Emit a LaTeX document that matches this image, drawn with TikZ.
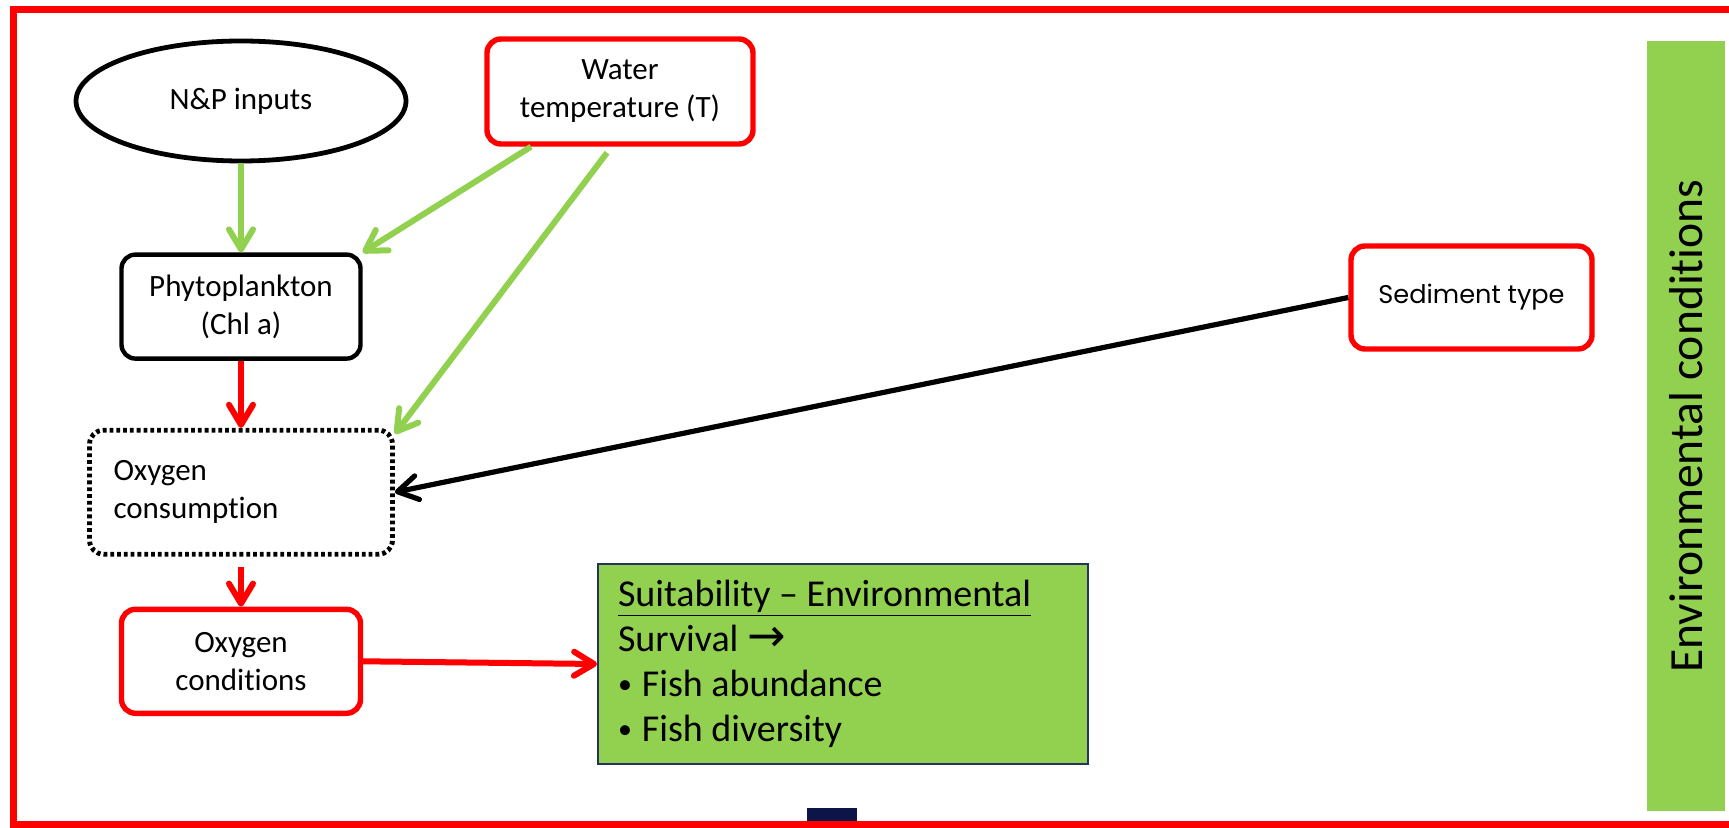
\documentclass[tikz,border=0pt]{standalone}
\usepackage{fontspec}
\setmainfont{Carlito}[Ligatures=NoCommon]
\newfontfamily\sedfont{Poppins}
\newfontfamily\arrowfont{DejaVu Sans}
\usepackage{tikz}
\usetikzlibrary{arrows.meta,positioning,shapes.geometric}
\definecolor{leafgreen}{RGB}{146,208,80}
\definecolor{framered}{RGB}{255,0,0}
\definecolor{inkblue}{RGB}{12,20,72}
\definecolor{edgeblue}{RGB}{38,50,95}
\newcommand{\fishdot}{\raisebox{1.5pt}{\fontsize{14pt}{14pt}\selectfont•}\hspace{5pt}}

\begin{document}
\begin{tikzpicture}[
  x=0.5pt,y=-0.5pt,
  every node/.style={font=\fontsize{15.5pt}{19pt}\selectfont},
  box/.style={draw=black,line width=2.2pt,rounded corners=7pt,align=center,
    minimum width=119.5pt,minimum height=52pt,inner sep=2pt},
  redbox/.style={box,draw=framered,line width=2.7pt},
  dotbox/.style={box,line width=2.4pt,dash pattern=on 1.9pt off 1.5pt,align=flush left,
    inner xsep=12pt,text width=127.5pt,minimum width=151.5pt,minimum height=62pt},
  inputs/.style={ellipse,draw=black,line width=2.4pt,minimum width=165pt,
    minimum height=60pt},
  suitbox/.style={draw=edgeblue,line width=1pt,fill=leafgreen,align=flush left,
    inner xsep=10pt,text width=225pt,minimum height=100pt,
    font=\fontsize{19pt}{22.5pt}\selectfont},
  envbar/.style={fill=leafgreen,inner sep=2pt,minimum width=385pt,
    minimum height=39pt,font=\fontsize{23.8pt}{28pt}\selectfont},
  greenarrow/.style={-{Straight Barb[length=10pt,width=12pt,round]},line width=3pt,
    draw=leafgreen},
  redarrow/.style={-{Straight Barb[length=10pt,width=12pt,round]},line width=3pt,
    draw=framered},
  blackarrow/.style={-{Straight Barb[length=10pt,width=12pt,round]},line width=2.6pt,
    draw=black}
]
\useasboundingbox (0,0) rectangle (1729,828);
\node[inputs] (np) at (241,101) {N\&P inputs};
\node[box,below=44.5pt of np] (phyto) {Phytoplankton\\(Chl a)};
\node[dotbox,below=33.5pt of phyto] (oxcons) {Oxygen\\consumption};
\node[redbox,below=25pt of oxcons] (oxcond) {Oxygen\\conditions};
\node[redbox,minimum width=133pt,minimum height=52.5pt] (water) at (620,91.5)
  {Water\\temperature (T)};
\node[redbox,minimum width=120.5pt,minimum height=51.5pt,
  font=\sedfont\fontsize{12.8pt}{15pt}\selectfont] (sed) at (1471.5,297.5) {Sediment type};
\node[suitbox] (suit) at (843,664)
  {\underline{Suitability – Environmental}\\Survival {\arrowfont\fontsize{23pt}{22.5pt}\selectfont →}\\\fishdot Fish abundance\\\fishdot Fish diversity};
\node[envbar,rotate=90] (env) at (1686,426) {Environmental conditions};
\draw[greenarrow] (np) -- (phyto);
\draw[greenarrow] ([xshift=-44.5pt]water.south) -- (phyto.north east);
\draw[greenarrow] ([xshift=-6.5pt,yshift=-3pt]water.south) -- ([yshift=-3pt]oxcons.north east);
\draw[redarrow] (phyto) -- (oxcons);
\draw[redarrow] ([yshift=-5pt]oxcons.south) -- (oxcond);
\draw[redarrow] (oxcond.east) -- (suit.west);
\draw[blackarrow] (sed.west) -- (oxcons.east);
\fill[inkblue] (807,808) rectangle (857,826);
\draw[framered,line width=3.5pt] (1729,9.5) -- (13,9.5) -- (13,824.5) -- (1729,824.5);
\end{tikzpicture}
\end{document}
